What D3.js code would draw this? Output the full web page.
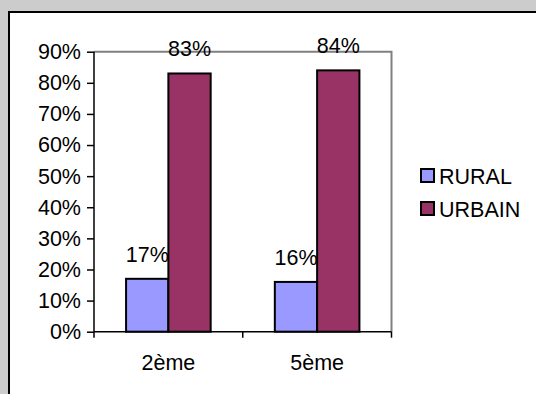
<!DOCTYPE html>
<html>
<head>
<meta charset="utf-8">
<script src="https://cdn.jsdelivr.net/npm/d3@7"></script>
<style>
  html, body { margin: 0; padding: 0; background: #cccccc; }
  svg { display: block; }
  text { font-family: "Liberation Sans", Arial, sans-serif; fill: #000; }
</style>
</head>
<body>
<svg id="chart" width="536" height="394"></svg>
<script>
// Share of pupils by zone, per school year
const categories = ["2ème", "5ème"];
const seriesNames = ["RURAL", "URBAIN"];
const rural = [17, 16];
const urbain = [83, 84];
const yTicks = [0, 10, 20, 30, 40, 50, 60, 70, 80, 90];
const colors = ["#9999FF", "#993366"];

const FS = 21.5;
const svg = d3.select("#chart");
const W = 536, H = 394;

// chart area (white panel with dark frame on top/left)
svg.append("rect").attr("x", 0).attr("y", 0).attr("width", W).attr("height", H).attr("fill", "#cccccc");
svg.append("rect").attr("x", 9).attr("y", 12).attr("width", W).attr("height", H)
  .attr("fill", "#fff").attr("stroke", "#000").attr("stroke-width", 2);

const plot = { left: 94, right: 391.5, top: 51.7, bottom: 331.7 };

const x0 = d3.scaleBand().domain(categories).range([plot.left, plot.right]).paddingInner(0).paddingOuter(0);
const groupW = 84.6;
const x1 = d3.scaleBand().domain(seriesNames).range([0, groupW]).padding(0);
const y = d3.scaleLinear().domain([0, 90]).range([plot.bottom, plot.top]);

// plot area frame (top and right sides in grey)
svg.append("path")
  .attr("d", `M${plot.left},${plot.top}H${plot.right}V${plot.bottom}`)
  .attr("fill", "none").attr("stroke", "#808080").attr("stroke-width", 2);

const rows = categories.map((c, i) => ({ cat: c, values: [rural[i], urbain[i]] }));

const groups = svg.append("g").selectAll("g").data(rows).join("g")
  .attr("transform", d => `translate(${x0(d.cat) + (x0.bandwidth() - groupW) / 2},0)`);

groups.selectAll("rect").data(d => d.values.map((v, j) => ({ name: seriesNames[j], v, j })))
  .join("rect")
  .attr("x", d => x1(d.name))
  .attr("y", d => y(d.v))
  .attr("width", x1.bandwidth())
  .attr("height", d => y(0) - y(d.v))
  .attr("fill", d => colors[d.j])
  .attr("stroke", "#000").attr("stroke-width", 2);

groups.selectAll("text.val").data(d => d.values.map((v, j) => ({ name: seriesNames[j], v, j })))
  .join("text").attr("class", "val")
  .attr("x", d => x1(d.name) + x1.bandwidth() / 2)
  .attr("y", d => y(d.v) - 17)
  .attr("text-anchor", "middle")
  .attr("font-size", FS)
  .text(d => d.v + "%");

// y axis
const yAxis = d3.axisLeft(y).tickValues(yTicks).tickFormat(d => d + "%").tickSize(7).tickPadding(6);
const ya = svg.append("g").attr("transform", `translate(${plot.left},0)`).call(yAxis);
ya.select(".domain").attr("stroke", "#000").attr("stroke-width", 1.5).attr("d", `M0,${plot.top}V${plot.bottom}`);
ya.selectAll(".tick line").attr("stroke", "#000").attr("stroke-width", 1.5);
ya.selectAll(".tick text").attr("font-size", FS).attr("font-family", "Liberation Sans, Arial, sans-serif").attr("fill", "#000");

// x axis
const xa = svg.append("g").attr("transform", `translate(0,${plot.bottom})`)
  .call(d3.axisBottom(x0).tickSize(0).tickPadding(23));
xa.select(".domain").attr("stroke", "#000").attr("stroke-width", 1.5).attr("d", `M${plot.left},0H${plot.right}`);
xa.selectAll(".tick text").attr("font-size", FS).attr("font-family", "Liberation Sans, Arial, sans-serif").attr("fill", "#000");
// category separator ticks
const bounds = [plot.left, ...categories.map(c => x0(c) + x0.bandwidth())];
xa.selectAll("line.sep").data(bounds).join("line").attr("class", "sep")
  .attr("x1", d => d).attr("x2", d => d).attr("y1", 0).attr("y2", 6)
  .attr("stroke", "#000").attr("stroke-width", 1.5);

// legend
const legend = svg.append("g").selectAll("g").data(seriesNames).join("g")
  .attr("transform", (d, i) => `translate(421,${169 + i * 33})`);
legend.append("rect").attr("width", 13).attr("height", 13)
  .attr("fill", (d, i) => colors[i]).attr("stroke", "#000").attr("stroke-width", 2);
legend.append("text").attr("x", 18).attr("y", 14.5).attr("font-size", FS).text(d => d);
</script>
</body>
</html>
